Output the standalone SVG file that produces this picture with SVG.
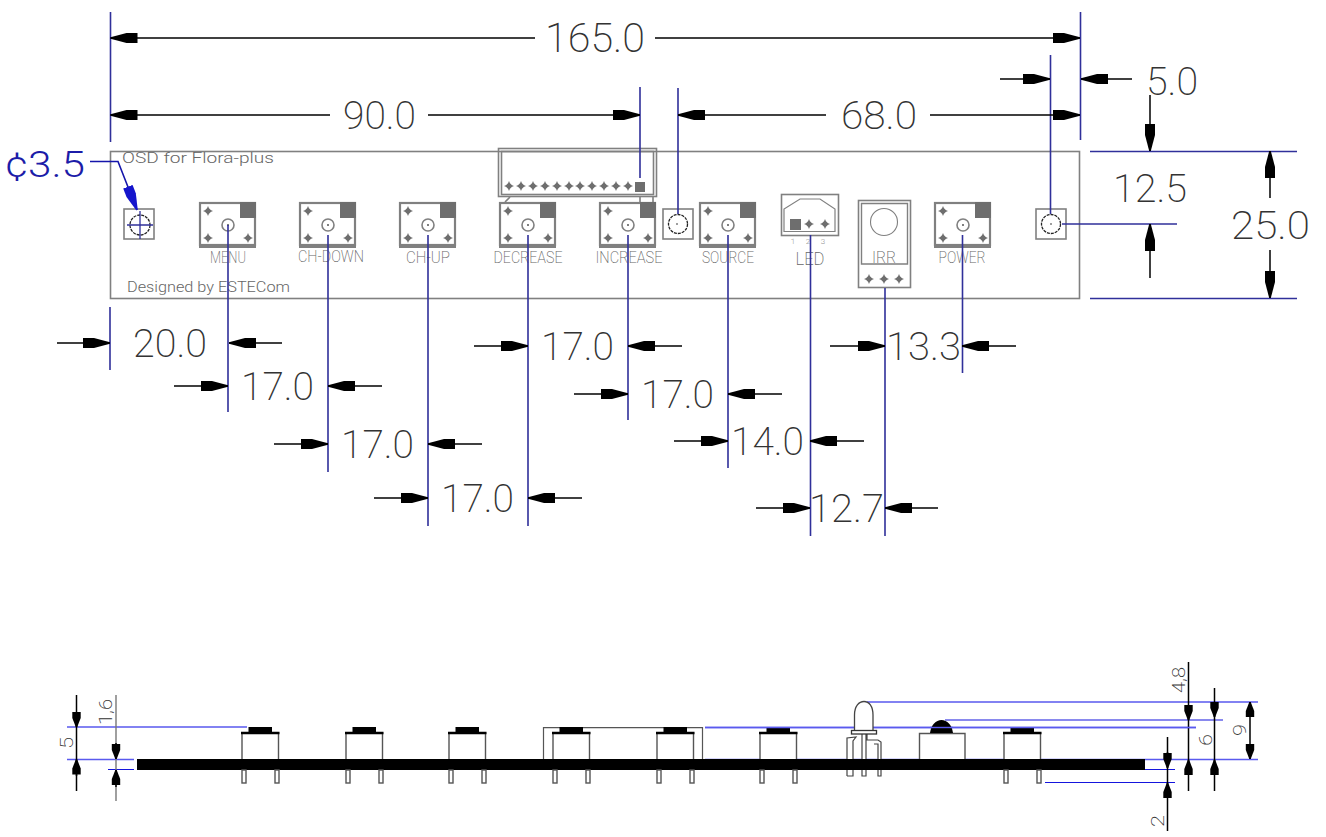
<svg xmlns="http://www.w3.org/2000/svg" xmlns:xlink="http://www.w3.org/1999/xlink" width="1326" height="837" viewBox="0 0 1326 837">
<style>
text{font-family:"Roboto","Liberation Sans",sans-serif;font-weight:200}
.dim{font-size:39px;fill:#333;font-weight:200}
.sm{font-size:18px;fill:#333}
.lbl{font-size:16px;fill:#666;text-anchor:middle}
.note{font-size:14px;fill:#666;font-weight:300}
.blk{stroke:#000;stroke-width:1.500;fill:none}
.arr{stroke:#000;stroke-width:1.500;fill:none;marker-end:url(#a)}
.nv{stroke:#30309a;stroke-width:1.600;fill:none}
.lb{stroke:#5a5aee;stroke-width:1.400;fill:none}
.db{stroke:#1515dd;stroke-width:1.200;fill:none}
.g{stroke:#808080;stroke-width:1.600;fill:none}
.gt{stroke:#808080;stroke-width:2.200;fill:none}
.gf{fill:#6e6e6e}
.ol{stroke:#555;stroke-width:1.400;fill:#fff}
</style>
<defs>
<marker id="a" markerUnits="userSpaceOnUse" markerWidth="29" markerHeight="12" refX="27" refY="6" orient="auto"><path d="M0 1H11L27 5.200V6.800L11 11H0z" fill="#000"/></marker>
<marker id="s" markerUnits="userSpaceOnUse" markerWidth="16" markerHeight="10" refX="15" refY="5" orient="auto"><path d="M0 .8H6L15 4.300V5.700L6 9.200H0z" fill="#000"/></marker>
<marker id="b" markerUnits="userSpaceOnUse" markerWidth="26" markerHeight="12" refX="25" refY="6" orient="auto"><path d="M0 1H9L25 5.200V6.800L9 11H0z" fill="#1515cc"/></marker>
<path id="d" d="M0-5L1.500-1.500L5 0L1.500 1.500L0 5L-1.500 1.500L-5 0L-1.500-1.500z M0-3.800L3.800 0L0 3.800L-3.800 0z" fill="#6e6e6e" fill-rule="nonzero"/>
<g id="btn">
<rect x="1" y="1" width="55" height="42" class="gt"/>
<path d="M0 45H57" class="gt"/>
<rect x="41" y="0" width="16" height="16" class="gf"/>
<circle cx="29" cy="23" r="6" class="g"/>
<circle cx="29" cy="23" r="1" fill="#555"/>
<use xlink:href="#d" href="#d" x="9" y="9"/>
<use xlink:href="#d" href="#d" x="9" y="36"/>
<use xlink:href="#d" href="#d" x="49" y="36"/>
</g>
<g id="sw">
<path d="M0 26V0H36.500V26" class="ol"/>
<path d="M-1 0H37.500" stroke="#000" stroke-width="2.400"/>
<rect x="6.500" y="-6" width="23.500" height="6" fill="#000"/>
<rect x="0" y="37" width="4" height="13" class="ol"/>
<rect x="33" y="37" width="4" height="13" class="ol"/>
</g>
<g id="hole"><rect x="-15" y="-15" width="30" height="30" class="g"/></g>
</defs>

<rect width="1326" height="837" fill="#fff"/>

<g id="board"><rect x="110.500" y="151.500" width="969" height="147" class="g"/>
<text x="122" y="163" class="note" textLength="152" lengthAdjust="spacingAndGlyphs">OSD for Flora-plus</text>
<text x="127" y="292" class="note" textLength="163" lengthAdjust="spacingAndGlyphs">Designed by ESTECom</text>
</g>

<g id="node-header">
<rect x="498.500" y="148.500" width="158" height="48" class="g"/>
<rect x="501.500" y="151.500" width="152" height="43" class="g"/>
<path d="M505 202L510 197M640 197V202M653 197V202" class="g"/>
<use xlink:href="#d" href="#d" x="509" y="186"/><use xlink:href="#d" href="#d" x="521" y="186"/><use xlink:href="#d" href="#d" x="533" y="186"/><use xlink:href="#d" href="#d" x="545" y="186"/><use xlink:href="#d" href="#d" x="557" y="186"/><use xlink:href="#d" href="#d" x="569" y="186"/><use xlink:href="#d" href="#d" x="580" y="186"/><use xlink:href="#d" href="#d" x="592" y="186"/><use xlink:href="#d" href="#d" x="604" y="186"/><use xlink:href="#d" href="#d" x="616" y="186"/><use xlink:href="#d" href="#d" x="628" y="186"/>
<rect x="635" y="182" width="10" height="10" class="gf"/>
</g>

<g id="node-hole-left"><use xlink:href="#hole" href="#hole" x="139" y="224"/><circle cx="140" cy="225" r="10" fill="none" stroke="#222" stroke-width="1.300" stroke-dasharray="3 1"/><path d="M127 225H153M140 211V239" stroke="#30309a" stroke-width="1.300"/></g>
<g id="node-hole-mid"><use xlink:href="#hole" href="#hole" x="678" y="224"/><circle cx="678" cy="224" r="9.500" fill="none" stroke="#222" stroke-width="1.300" stroke-dasharray="3 1"/><circle cx="677" cy="224" r=".8" fill="#222"/></g>
<g id="node-hole-right"><use xlink:href="#hole" href="#hole" x="1051" y="224"/><circle cx="1051" cy="224" r="9.500" fill="none" stroke="#222" stroke-width="1.300" stroke-dasharray="3 1"/><circle cx="1051" cy="224" r=".8" fill="#222"/></g>

<g id="node-menu"><use xlink:href="#btn" href="#btn" x="199" y="202"/><text x="228" y="263" class="lbl" textLength="36" lengthAdjust="spacingAndGlyphs">MENU</text></g>
<g id="node-chdown"><use xlink:href="#btn" href="#btn" x="299" y="202"/><text x="331" y="262" class="lbl" textLength="66" lengthAdjust="spacingAndGlyphs">CH-DOWN</text></g>
<g id="node-chup"><use xlink:href="#btn" href="#btn" x="399" y="202"/><text x="428" y="263" class="lbl" textLength="44" lengthAdjust="spacingAndGlyphs">CH-UP</text></g>
<g id="node-decrease"><use xlink:href="#btn" href="#btn" x="499" y="202"/><text x="528" y="263" class="lbl" textLength="69" lengthAdjust="spacingAndGlyphs">DECREASE</text></g>
<g id="node-increase"><use xlink:href="#btn" href="#btn" x="599" y="202"/><text x="629" y="263" class="lbl" textLength="67" lengthAdjust="spacingAndGlyphs">INCREASE</text></g>
<g id="node-source"><use xlink:href="#btn" href="#btn" x="699" y="202"/><text x="728" y="263" class="lbl" textLength="52" lengthAdjust="spacingAndGlyphs">SOURCE</text></g>
<g id="node-power"><use xlink:href="#btn" href="#btn" x="934" y="202"/><text x="962" y="263" class="lbl" textLength="47" lengthAdjust="spacingAndGlyphs">POWER</text></g>

<g id="node-led">
<rect x="781.500" y="194.500" width="57" height="41" class="g"/>
<path d="M784 231.500H835V209L820 199H800L784 209z" class="g" style="stroke-width:1.200"/>
<rect x="790" y="219" width="11" height="11" class="gf"/>
<use xlink:href="#d" href="#d" x="809" y="224"/><use xlink:href="#d" href="#d" x="825" y="224"/>
<text x="793" y="244" font-size="8" fill="#666" text-anchor="middle">1</text><text x="808" y="244" font-size="8" fill="#666" text-anchor="middle">2</text><text x="823" y="244" font-size="8" fill="#666" text-anchor="middle">3</text>
<text x="810" y="265" class="lbl" style="font-size:18px" textLength="29" lengthAdjust="spacingAndGlyphs">LED</text>
</g>

<g id="node-irr">
<rect x="858.500" y="200.500" width="52" height="87" class="g"/>
<path d="M861.500 203.500H907.500V264H861.500z" class="g" style="stroke-width:1.400"/>
<circle cx="884" cy="222" r="13.500" class="g" style="stroke-width:1.100"/>
<use xlink:href="#d" href="#d" x="869" y="279"/><use xlink:href="#d" href="#d" x="884" y="279"/><use xlink:href="#d" href="#d" x="899" y="279"/>
<text x="884" y="263" class="lbl" textLength="24" lengthAdjust="spacingAndGlyphs">IRR</text>
</g>

<g id="connectors">
<path class="nv" d="M110.500 12V142M1080.500 12V140M640 87V178M678 88V214M1050.500 55V214M1062 224H1177M1090 151.500H1297M1090 298.500H1297M110 307V370"/>
<path class="nv" d="M228 225V412M328 235V472M428 235V526M528 235V526M628 235V420M728 235V468M810.500 235V536M885 288V536M962.500 235V373"/>

<path class="arr" d="M535 38H110.500"/><path class="arr" d="M655 38H1080"/>
<path class="arr" d="M330 115H110.500"/><path class="arr" d="M428 115H640"/>
<path class="arr" d="M826 115H678"/><path class="arr" d="M930 115H1080"/>
<path class="arr" d="M1000 79H1050"/><path class="arr" d="M1132 79H1081"/>
<path class="arr" d="M1150 95V151"/><path class="arr" d="M1150 278V224"/>
<path class="arr" d="M1270 198V151"/><path class="arr" d="M1270 250V298"/>

<path class="arr" d="M57 343H110"/><path class="arr" d="M282 343H229"/>
<path class="arr" d="M174 386H228"/><path class="arr" d="M382 386H328"/>
<path class="arr" d="M274 444H328"/><path class="arr" d="M482 444H428"/>
<path class="arr" d="M374 498H428"/><path class="arr" d="M582 498H528"/>
<path class="arr" d="M474 346H528"/><path class="arr" d="M682 346H628"/>
<path class="arr" d="M574 394H628"/><path class="arr" d="M782 394H728"/>
<path class="arr" d="M674 441H728"/><path class="arr" d="M864 441H810"/>
<path class="arr" d="M756 508H810"/><path class="arr" d="M938 508H885"/>
<path class="arr" d="M830 346H885"/><path class="arr" d="M1016 346H962"/>

<path d="M90 161.500H118L137 210" fill="none" stroke="#1515aa" stroke-width="1.600" marker-end="url(#b)"/>

<path class="lb" d="M67 727H247M67 759.500H134M705 727.500H1196M705 759.500H1258M867 702H1258"/>
<path class="db" d="M108 769.500H134M945 720H1223M1040 769.500H1175M1045 782.500H1175"/>

<path class="blk" d="M76.500 695V791"/>
<path d="M76.500 712V727" class="blk" marker-end="url(#s)"/><path d="M76.500 776V759.500" class="blk" marker-end="url(#s)"/>
<path stroke="#777" stroke-width="1.400" d="M116 695V801"/>
<path d="M116 743V759" class="blk" marker-end="url(#s)"/><path d="M116 787V770" class="blk" marker-end="url(#s)"/>
<path class="blk" d="M1188.500 662V791M1214.500 688V791M1250 702V759M1167.500 737V831"/>
<path d="M1188.500 705V720" class="blk" marker-end="url(#s)"/><path d="M1188.500 775V760" class="blk" marker-end="url(#s)"/>
<path d="M1214.500 702V717" class="blk" marker-end="url(#s)"/><path d="M1214.500 775V760" class="blk" marker-end="url(#s)"/>
<path d="M1250 717V702" class="blk" marker-end="url(#s)"/><path d="M1250 744V759" class="blk" marker-end="url(#s)"/>
<path d="M1167.500 752V768" class="blk" marker-end="url(#s)"/><path d="M1167.500 798V783" class="blk" marker-end="url(#s)"/>
</g>

<g id="labels">
<text x="545" y="52" class="dim" style="font-size:41px" textLength="100" lengthAdjust="spacingAndGlyphs">165.0</text>
<text x="343" y="129" class="dim" textLength="73" lengthAdjust="spacingAndGlyphs">90.0</text>
<text x="841" y="129" class="dim" textLength="76" lengthAdjust="spacingAndGlyphs">68.0</text>
<text x="1146" y="95" class="dim" textLength="52" lengthAdjust="spacingAndGlyphs">5.0</text>
<text x="1113" y="202" class="dim" textLength="74" lengthAdjust="spacingAndGlyphs">12.5</text>
<text x="1231" y="239" class="dim" textLength="79" lengthAdjust="spacingAndGlyphs">25.0</text>
<text x="133" y="357" class="dim" textLength="74" lengthAdjust="spacingAndGlyphs">20.0</text>
<text x="241" y="400" class="dim" textLength="73" lengthAdjust="spacingAndGlyphs">17.0</text>
<text x="341" y="458" class="dim" textLength="73" lengthAdjust="spacingAndGlyphs">17.0</text>
<text x="441" y="512" class="dim" textLength="73" lengthAdjust="spacingAndGlyphs">17.0</text>
<text x="541" y="360" class="dim" textLength="73" lengthAdjust="spacingAndGlyphs">17.0</text>
<text x="641" y="408" class="dim" textLength="73" lengthAdjust="spacingAndGlyphs">17.0</text>
<text x="731" y="455" class="dim" textLength="73" lengthAdjust="spacingAndGlyphs">14.0</text>
<text x="809" y="522" class="dim" textLength="75" lengthAdjust="spacingAndGlyphs">12.7</text>
<text x="886" y="360" class="dim" textLength="75" lengthAdjust="spacingAndGlyphs">13.3</text>
<text x="5" y="177" font-size="36" fill="#1c1ca8" style="font-weight:300" textLength="80" lengthAdjust="spacingAndGlyphs">¢3.5</text>
<text transform="translate(73 749) rotate(-90)" class="sm" textLength="12" lengthAdjust="spacingAndGlyphs">5</text>
<text transform="translate(112 725) rotate(-90)" class="sm" textLength="26" lengthAdjust="spacingAndGlyphs">1,6</text>
<text transform="translate(1185 693) rotate(-90)" class="sm" textLength="26" lengthAdjust="spacingAndGlyphs">4,8</text>
<text transform="translate(1212 746) rotate(-90)" class="sm" textLength="12" lengthAdjust="spacingAndGlyphs">6</text>
<text transform="translate(1246 736) rotate(-90)" class="sm" textLength="12" lengthAdjust="spacingAndGlyphs">9</text>
<text transform="translate(1164 827) rotate(-90)" class="sm" textLength="12" lengthAdjust="spacingAndGlyphs">2</text>
</g>

<g id="side-view">
<path d="M847 776V738L856 737L853 741V776H847M862 734V776H866V734M867 734V740H878L881 742V776H878V744H874" fill="#fff" stroke="#444" stroke-width="1.200"/>
<rect x="137" y="759" width="1008" height="11" fill="#000"/>
<path d="M543.500 759V727.700H702.500V759" fill="none" stroke="#555" stroke-width="1.200"/>
<use xlink:href="#sw" href="#sw" x="242" y="733"/>
<use xlink:href="#sw" href="#sw" x="346" y="733"/>
<use xlink:href="#sw" href="#sw" x="449" y="733"/>
<use xlink:href="#sw" href="#sw" x="553" y="733"/>
<use xlink:href="#sw" href="#sw" x="657" y="733"/>
<use xlink:href="#sw" href="#sw" x="760" y="733"/>
<use xlink:href="#sw" href="#sw" x="1004" y="733"/>
<path d="M705 727.500H1196" class="lb"/>
<path id="led-dome" d="M854.500 730V715C854.500 706 859 701.500 864 701.500S873 706 873 715V730" fill="#fff" stroke="#444" stroke-width="1.300"/>
<rect x="851.500" y="730.500" width="25" height="3.500" fill="#fff" stroke="#333" stroke-width="1.300"/>
<path d="M919.500 759V733.500H965V759" fill="#fff" stroke="#555" stroke-width="1.400"/>
<path d="M930 733C931 725 936 720 941.500 720S952 725 953 733z" fill="#000"/>
<path d="M930 727.500H953" class="lb"/>
</g>
</svg>
